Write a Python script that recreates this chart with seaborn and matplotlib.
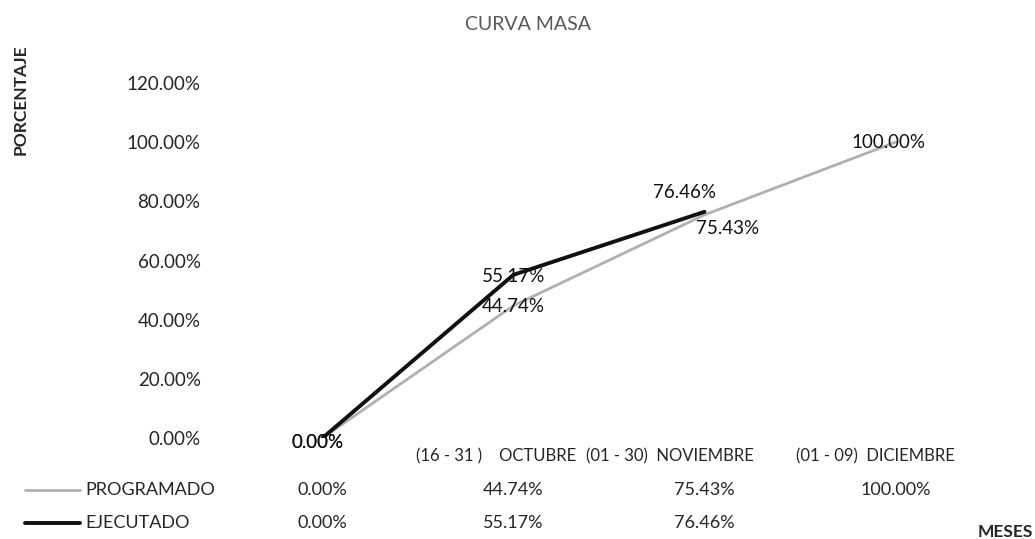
import matplotlib
matplotlib.use("Agg")
import matplotlib.pyplot as plt
import matplotlib.transforms as mtransforms
import seaborn as sns
import numpy as np
import pandas as pd

# chart data
categorias = ["", "(16 - 31 )    OCTUBRE", "(01 - 30)  NOVIEMBRE", "(01 - 09)  DICIEMBRE"]
programado = [0.00, 44.74, 75.43, 100.00]
ejecutado = [0.00, 55.17, 76.46, np.nan]
y_ticks = [0, 20, 40, 60, 80, 100, 120]

# label offsets in pixels (dx, dy)
off_prog = [(-5, -4), (0, -1), (23, -14), (-7, 0)]
off_ejec = [(-5, -4), (0, -2), (-20, 19), (0, 0)]
off_cat = [0, -17, -35, -20]

df = pd.DataFrame({"x": range(len(categorias)), "PROGRAMADO": programado, "EJECUTADO": ejecutado})

sns.set_style("white")
plt.rcParams["font.family"] = ["Lato", "DejaVu Sans"]

W, H = 1035, 539
fig = plt.figure(figsize=(W / 100, H / 100), dpi=100)
# plot area: x 227..991 px, y 83..438 px
ax = fig.add_axes([227 / W, 1 - 438 / H, 764 / W, 355 / H])

sns.lineplot(data=df, x="x", y="PROGRAMADO", ax=ax, color="#b0b0b0", linewidth=2.0)
sns.lineplot(data=df, x="x", y="EJECUTADO", ax=ax, color="#111111", linewidth=2.8)

ax.set_xlim(-0.5, len(categorias) - 0.5)
ax.set_ylim(0, 120)
ax.set_yticks(y_ticks)
ax.set_yticklabels([f"{v:.2f}%" for v in y_ticks], fontsize=13.5)
ax.set_xticks([])
ax.set_xlabel("")
ax.set_ylabel("")
ax.tick_params(axis="y", length=0, pad=19)
sns.despine(ax=ax, left=True, bottom=True)

# data labels
for i, v in enumerate(programado):
    ax.annotate(f"{v:.2f}%", (i, v), xytext=off_prog[i], textcoords="offset pixels",
                ha="center", va="center", fontsize=13.5, color="#111111")
for i, v in enumerate(ejecutado):
    if np.isnan(v):
        continue
    ax.annotate(f"{v:.2f}%", (i, v), xytext=off_ejec[i], textcoords="offset pixels",
                ha="center", va="center", fontsize=13.5, color="#111111")

# data table under the plot
tr = mtransforms.blended_transform_factory(ax.transData, fig.transFigure)
row_cat = 1 - 456 / H
row_prog = 1 - 490 / H
row_ejec = 1 - 523 / H
for i, c in enumerate(categorias):
    t = mtransforms.offset_copy(tr, fig=fig, x=off_cat[i], y=0, units="dots")
    fig.text(i, row_cat, c, transform=t, ha="center", va="center", fontsize=12)
for i, v in enumerate(programado):
    fig.text(i, row_prog, f"{v:.2f}%", transform=tr, ha="center", va="center", fontsize=13)
for i, v in enumerate(ejecutado):
    if not np.isnan(v):
        fig.text(i, row_ejec, f"{v:.2f}%", transform=tr, ha="center", va="center", fontsize=13)

# legend keys of the table
fig.add_artist(plt.Line2D([25 / W, 80 / W], [row_prog, row_prog], color="#b0b0b0", linewidth=2.0))
fig.add_artist(plt.Line2D([25 / W, 80 / W], [row_ejec, row_ejec], color="#111111", linewidth=2.8))
fig.text(85 / W, row_prog, "PROGRAMADO", ha="left", va="center", fontsize=13)
fig.text(85 / W, row_ejec, "EJECUTADO", ha="left", va="center", fontsize=13)

fig.text(528 / W, 1 - 25 / H, "CURVA MASA", ha="center", va="center", fontsize=14,
         color="#595959")
fig.text(21 / W, 1 - 100 / H, "PORCENTAJE", rotation=90, ha="center", va="center",
         fontsize=12.5, fontweight="bold")
fig.text(1033 / W, 1 - 532 / H, "MESES", ha="right", va="center", fontsize=12.5, fontweight="bold")

fig.savefig("out.png", dpi=100)
